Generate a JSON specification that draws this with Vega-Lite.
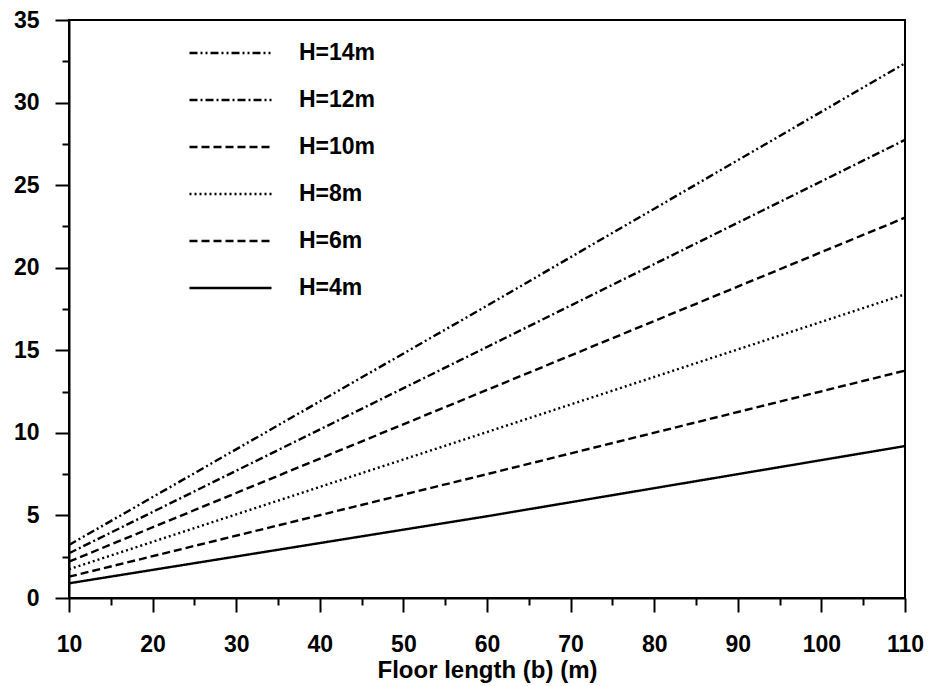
{
  "$schema": "https://vega.github.io/schema/vega-lite/v6.json",
  "width": 836,
  "height": 578,
  "autosize": "none",
  "padding": {"left": 69, "top": 20, "right": 24, "bottom": 88},
  "background": "white",
  "config": {
    "view": {"stroke": "black", "strokeWidth": 2},
    "font": "Liberation Sans",
    "axis": {
      "domainColor": "black",
      "domainWidth": 2,
      "tickColor": "black",
      "tickWidth": 2,
      "labelFont": "Liberation Sans",
      "labelFontWeight": "bold",
      "labelFontSize": 23,
      "labelColor": "black",
      "titleFont": "Liberation Sans",
      "titleFontWeight": "bold",
      "titleFontSize": 24,
      "titleColor": "black",
      "grid": false
    }
  },
  "data": {
    "values": [
      {"b": 10, "H": "H=4m", "y": 0.89},
      {"b": 60, "H": "H=4m", "y": 4.95},
      {"b": 110, "H": "H=4m", "y": 9.2},
      {"b": 10, "H": "H=6m", "y": 1.29},
      {"b": 60, "H": "H=6m", "y": 7.5},
      {"b": 110, "H": "H=6m", "y": 13.77},
      {"b": 10, "H": "H=8m", "y": 1.74},
      {"b": 60, "H": "H=8m", "y": 10.05},
      {"b": 110, "H": "H=8m", "y": 18.39},
      {"b": 10, "H": "H=10m", "y": 2.2},
      {"b": 60, "H": "H=10m", "y": 12.6},
      {"b": 110, "H": "H=10m", "y": 23.03},
      {"b": 10, "H": "H=12m", "y": 2.71},
      {"b": 60, "H": "H=12m", "y": 15.2},
      {"b": 110, "H": "H=12m", "y": 27.74},
      {"b": 10, "H": "H=14m", "y": 3.21},
      {"b": 60, "H": "H=14m", "y": 17.7},
      {"b": 110, "H": "H=14m", "y": 32.38}
    ]
  },
  "mark": {"type": "line", "color": "black", "strokeWidth": 2.4},
  "encoding": {
    "x": {
      "field": "b",
      "type": "quantitative",
      "scale": {"domain": [10, 110], "nice": false, "zero": false},
      "axis": {
        "title": "Floor length (b) (m)",
        "values": [10, 15, 20, 25, 30, 35, 40, 45, 50, 55, 60, 65, 70, 75, 80, 85, 90, 95, 100, 105, 110],
        "labelExpr": "datum.value % 10 === 0 ? datum.label : ''",
        "tickSize": {"condition": {"test": "datum.value % 10 === 0", "value": 14}, "value": 7},
        "labelPadding": 21,
        "titlePadding": 2,
        "labelFlush": false
      }
    },
    "y": {
      "field": "y",
      "type": "quantitative",
      "scale": {"domain": [0, 35], "nice": false},
      "axis": {
        "title": null,
        "values": [0, 2.5, 5, 7.5, 10, 12.5, 15, 17.5, 20, 22.5, 25, 27.5, 30, 32.5, 35],
        "labelExpr": "datum.value % 5 === 0 ? datum.label : ''",
        "tickSize": {"condition": {"test": "datum.value % 5 === 0", "value": 14}, "value": 7},
        "labelPadding": 16,
        "labelFlush": false
      }
    },
    "strokeDash": {
      "field": "H",
      "type": "nominal",
      "scale": {
        "domain": ["H=14m", "H=12m", "H=10m", "H=8m", "H=6m", "H=4m"],
        "range": [[8, 3, 2, 3, 2, 3], [8, 3, 2, 3], [8, 4], [2, 3], [8, 4], [1, 0]]
      },
      "legend": {
        "title": null,
        "orient": "none",
        "legendX": 119,
        "legendY": 18,
        "symbolType": "stroke",
        "symbolSize": 6724,
        "symbolStrokeWidth": 2.4,
        "symbolStrokeColor": "black",
        "labelFont": "Liberation Sans",
        "labelFontWeight": "bold",
        "labelFontSize": 23,
        "labelColor": "black",
        "labelOffset": 26,
        "clipHeight": 30,
        "rowPadding": 17,
        "labelLimit": 300
      }
    }
  }
}
